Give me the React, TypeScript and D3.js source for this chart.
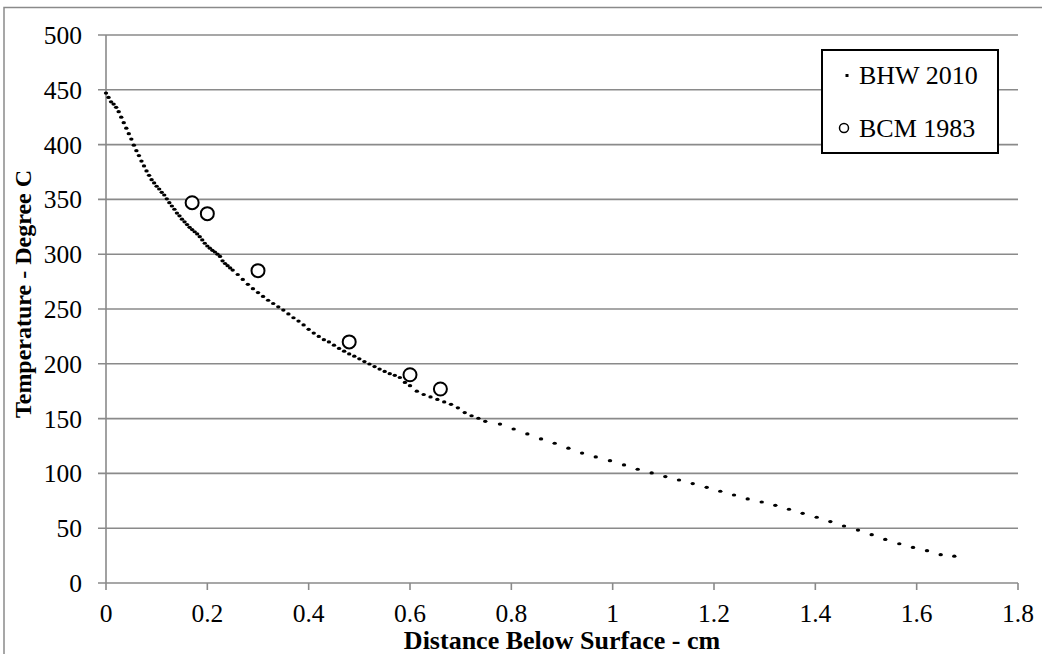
import React from "react";
import * as d3 from "d3";

// ---- data ----
const xTicks = [0, 0.2, 0.4, 0.6, 0.8, 1, 1.2, 1.4, 1.6, 1.8];
const yTicks = [0, 50, 100, 150, 200, 250, 300, 350, 400, 450, 500];

const bhwDepth = [
  0, 0.005, 0.01, 0.015, 0.02, 0.025, 0.03, 0.035, 0.04, 0.045,
  0.05, 0.055, 0.06, 0.065, 0.07, 0.075, 0.08, 0.085, 0.09, 0.095,
  0.1, 0.105, 0.11, 0.115, 0.12, 0.125, 0.13, 0.135, 0.14, 0.145,
  0.15, 0.155, 0.16, 0.165, 0.17, 0.175, 0.18, 0.185, 0.19, 0.195,
  0.2, 0.205, 0.21, 0.215, 0.22, 0.225, 0.23, 0.235, 0.24, 0.245,
  0.25,
  0.26, 0.27, 0.28, 0.29, 0.3, 0.31, 0.32, 0.33, 0.34, 0.35,
  0.36, 0.37, 0.38, 0.39, 0.4, 0.41, 0.42, 0.43, 0.44, 0.45,
  0.46, 0.47, 0.48, 0.49, 0.5, 0.51, 0.52, 0.53, 0.54, 0.55,
  0.56, 0.57, 0.58, 0.59,
  0.6, 0.6135, 0.627, 0.6405, 0.654, 0.6675, 0.681, 0.6945, 0.708, 0.7215, 0.735, 0.7485,
  0.7776, 0.8046, 0.8316, 0.8586, 0.8856, 0.9126, 0.9396, 0.9666, 0.9947, 1.0224,
  1.0494, 1.077, 1.1039, 1.1309, 1.158, 1.1856, 1.2124, 1.2395, 1.2665, 1.2941,
  1.321, 1.348, 1.375, 1.4027, 1.4296, 1.4566, 1.4842, 1.5112, 1.538, 1.5657,
  1.5928, 1.6204, 1.6474, 1.6743,
];
const bhwTemp = [
  447, 443, 439, 437, 434, 430, 425, 420, 415, 410,
  405, 399.5, 394.5, 390, 385, 380.5, 376, 372, 368, 365,
  362, 359.5, 356.5, 354, 350.5, 347, 344, 341, 337.5, 335,
  332, 329.5, 327, 324.5, 322.5, 320.5, 318.5, 316, 313, 310,
  307.5, 305.5, 303.5, 302, 300, 298, 294, 291.5, 289.5, 287.5,
  285.5,
  281.5, 277, 272.5, 268.5, 265, 261.5, 258, 255, 252, 249,
  245.5, 242, 239, 235.5, 231.5, 228, 225, 222, 220, 217,
  214, 211.5, 209, 207, 204.5, 202, 199.8, 197.5, 195.2, 193,
  191, 189.5, 187.5, 183,
  180, 175, 172, 169.8, 167.5, 165.2, 163, 159.8, 155.5, 152.6, 150.3, 147.5,
  145, 140.5, 136, 131.5, 127.5, 123, 118.5, 115, 111.6, 107.7,
  103.8, 100.4, 97.1, 94, 90.7, 87.3, 83.7, 80.3, 76.7, 73.9,
  70.9, 67.3, 63.6, 60, 56, 52, 48.3, 44.1, 39.8, 35.8,
  32.5, 29.5, 25.8, 24.5,
];

const bcmDepth = [0.17, 0.2, 0.3, 0.48, 0.6, 0.66];
const bcmTemp = [347, 337, 285, 220, 190, 177];

const seriesNames = ["BHW 2010", "BCM 1983"];
const xTitle = "Distance Below Surface - cm";
const yTitle = "Temperature - Degree C";

// ---- layout ----
const W = 1042;
const H = 654;
const plot = { left: 106, right: 1018, top: 35, bottom: 583 };
const FONT = "'Liberation Serif', 'Times New Roman', Times, serif";
const GRID = "#8a8a8a";

export default function App() {
  const x = d3.scaleLinear().domain([0, 1.8]).range([plot.left, plot.right]);
  const y = d3.scaleLinear().domain([0, 500]).range([plot.bottom, plot.top]);

  const bhw = bhwDepth.map((d, i) => ({ x: d, y: bhwTemp[i] }));
  const bcm = bcmDepth.map((d, i) => ({ x: d, y: bcmTemp[i] }));
  const txt = { fontFamily: FONT };

  return (
    <svg
      width={W}
      height={H}
      style={{ position: "absolute", left: 0, top: 0, background: "#fff" }}
    >
      <rect x={0} y={0} width={W} height={H} fill="#fff" />
      {/* outer chart border */}
      <rect x={4} y={7.5} width={W + 50} height={H + 50} fill="none" stroke={GRID} strokeWidth={1.5} />

      {/* horizontal gridlines + y ticks */}
      {yTicks.map((t) => (
        <g key={"gy" + t}>
          <line
            x1={plot.left - 8}
            x2={plot.right}
            y1={y(t)}
            y2={y(t)}
            stroke={GRID}
            strokeWidth={1.6}
          />
          <text x={82} y={y(t) + 9} textAnchor="end" fontSize={25.5} fill="#000" style={txt}>
            {t}
          </text>
        </g>
      ))}

      {/* y axis line */}
      <line x1={plot.left} x2={plot.left} y1={plot.top} y2={plot.bottom} stroke={GRID} strokeWidth={1.6} />

      {/* x ticks */}
      {xTicks.map((t) => (
        <g key={"gx" + t}>
          <line x1={x(t)} x2={x(t)} y1={plot.bottom} y2={plot.bottom + 7} stroke={GRID} strokeWidth={1.6} />
          <text x={x(t)} y={622} textAnchor="middle" fontSize={25.5} fill="#000" style={txt}>
            {t}
          </text>
        </g>
      ))}

      {/* BHW 2010 dots */}
      {bhw.map((p, i) => (
        <ellipse key={"b" + i} cx={x(p.x)} cy={y(p.y)} rx={2.2} ry={1.6} fill="#000" />
      ))}

      {/* BCM 1983 circles */}
      {bcm.map((p, i) => (
        <circle key={"c" + i} cx={x(p.x)} cy={y(p.y)} r={6.5} fill="#fff" stroke="#000" strokeWidth={2} />
      ))}

      {/* axis titles */}
      <text x={(plot.left + plot.right) / 2} y={649} textAnchor="middle" fontSize={26} fontWeight="bold" fill="#000" style={txt}>
        {xTitle}
      </text>
      <text
        transform={`translate(31, 294) rotate(-90)`}
        textAnchor="middle"
        fontSize={24}
        fontWeight="bold"
        fill="#000"
        style={txt}
      >
        {yTitle}
      </text>

      {/* legend */}
      <g>
        <rect x={822} y={50} width={176} height={103} fill="#fff" stroke="#000" strokeWidth={2} />
        <rect x={845.5} y={74} width={3} height={3} fill="#000" />
        <text x={859} y={84} fontSize={26} fill="#000" style={txt}>
          {seriesNames[0]}
        </text>
        <circle cx={844} cy={128} r={4.5} fill="#fff" stroke="#000" strokeWidth={1.5} />
        <text x={859} y={137} fontSize={26} fill="#000" style={txt}>
          {seriesNames[1]}
        </text>
      </g>
    </svg>
  );
}
